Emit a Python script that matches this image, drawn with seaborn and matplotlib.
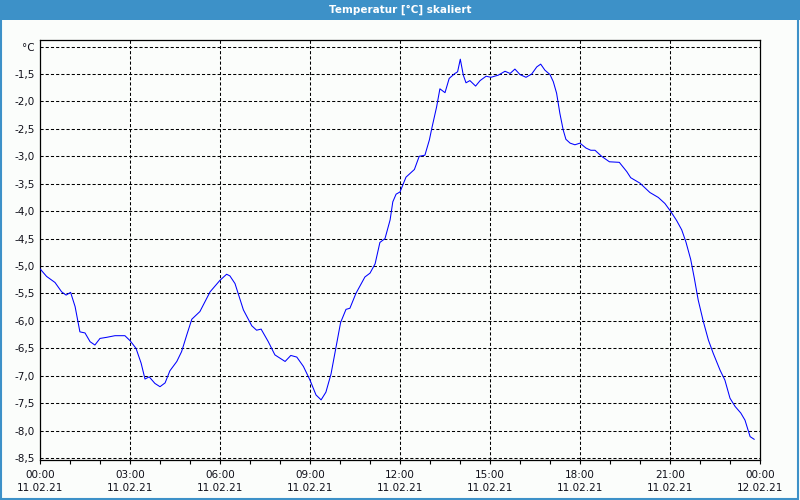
import matplotlib
matplotlib.use("Agg")
import matplotlib.pyplot as plt
from matplotlib.patches import Rectangle
import seaborn as sns
import pandas as pd

# ---- data ----
hours = [0.0, 0.22, 0.5, 0.72, 0.87, 1.02, 1.17, 1.33, 1.5, 1.67, 1.83, 2.0, 2.22, 2.5, 2.83,
         3.0, 3.2, 3.37, 3.5, 3.64, 3.83, 4.0, 4.17, 4.33, 4.56, 4.72, 4.89, 5.06, 5.33, 5.67,
         6.0, 6.22, 6.33, 6.5, 6.78, 7.06, 7.22, 7.37, 7.61, 7.83, 8.17, 8.36, 8.56, 8.78,
         9.0, 9.2, 9.37, 9.53, 9.7, 9.87, 10.02, 10.2, 10.33, 10.53, 10.83, 11.0, 11.17, 11.33,
         11.5, 11.67, 11.76, 11.87, 12.0, 12.2, 12.48, 12.64, 12.83, 12.98, 13.06, 13.22, 13.33,
         13.5, 13.64, 13.83, 13.92, 14.01, 14.11, 14.2, 14.33, 14.52, 14.67, 14.87, 15.03, 15.28,
         15.5, 15.67, 15.83, 16.0, 16.2, 16.39, 16.56, 16.69, 16.83, 17.0, 17.11, 17.22, 17.33,
         17.44, 17.53, 17.67, 17.83, 18.0, 18.2, 18.36, 18.5, 18.72, 18.98, 19.31, 19.56, 19.69,
         20.0, 20.33, 20.61, 20.83, 21.03, 21.22, 21.39, 21.53, 21.69, 21.81, 21.94, 22.11, 22.28,
         22.44, 22.67, 22.83, 23.0, 23.17, 23.36, 23.5, 23.58, 23.67, 23.81]
temps = [-5.05, -5.19, -5.30, -5.47, -5.53, -5.48, -5.74, -6.20, -6.22, -6.38, -6.44, -6.32, -6.30, -6.27, -6.27,
         -6.36, -6.50, -6.77, -7.06, -7.02, -7.14, -7.20, -7.13, -6.91, -6.74, -6.56, -6.26, -5.97, -5.83, -5.47,
         -5.26, -5.15, -5.18, -5.32, -5.80, -6.09, -6.17, -6.15, -6.38, -6.62, -6.74, -6.63, -6.66, -6.83,
         -7.08, -7.35, -7.44, -7.30, -6.97, -6.47, -6.03, -5.79, -5.77, -5.50, -5.20, -5.13, -4.96, -4.57,
         -4.50, -4.16, -3.83, -3.69, -3.65, -3.38, -3.24, -3.00, -2.98, -2.70, -2.49, -2.10, -1.77,
         -1.84, -1.58, -1.49, -1.46, -1.23, -1.52, -1.66, -1.62, -1.72, -1.62, -1.54, -1.56, -1.52,
         -1.45, -1.49, -1.41, -1.51, -1.56, -1.50, -1.37, -1.32, -1.43, -1.51, -1.64, -1.85, -2.22,
         -2.52, -2.69, -2.76, -2.79, -2.76, -2.85, -2.89, -2.89, -3.00, -3.10, -3.11, -3.28, -3.39,
         -3.49, -3.66, -3.75, -3.86, -4.01, -4.17, -4.34, -4.56, -4.88, -5.22, -5.62, -6.01, -6.35,
         -6.59, -6.90, -7.08, -7.41, -7.56, -7.68, -7.81, -7.95, -8.11, -8.16]

x_tick_pos = [0, 3, 6, 9, 12, 15, 18, 21, 24]
x_tick_labels = ["00:00\n11.02.21", "03:00\n11.02.21", "06:00\n11.02.21", "09:00\n11.02.21",
                 "12:00\n11.02.21", "15:00\n11.02.21", "18:00\n11.02.21", "21:00\n11.02.21",
                 "00:00\n12.02.21"]
y_tick_pos = [-1.0, -1.5, -2.0, -2.5, -3.0, -3.5, -4.0, -4.5, -5.0, -5.5, -6.0, -6.5, -7.0, -7.5, -8.0, -8.5]
y_tick_labels = ["°C", "-1,5", "-2,0", "-2,5", "-3,0", "-3,5", "-4,0", "-4,5", "-5,0", "-5,5",
                 "-6,0", "-6,5", "-7,0", "-7,5", "-8,0", "-8,5"]
title = "Temperatur [°C] skaliert"

# ---- style ----
sns.set_theme(style="white")
plt.rcParams['font.family'] = ['DejaVu Sans']
bg = '#fbfdfb'
header = '#3d91c8'

fig = plt.figure(figsize=(8, 5), dpi=100, facecolor=bg)
ax = fig.add_axes([0.05, 0.08, 0.9, 0.84])
ax.set_facecolor(bg)

df = pd.DataFrame({"h": hours, "t": temps})
sns.lineplot(data=df, x="h", y="t", ax=ax, color='#0000ff', linewidth=0.75,
             estimator=None, antialiased=True, zorder=3)

ax.set_xlim(0, 24)
ax.set_ylim(-8.536, -0.88)
ax.set_xlabel("")
ax.set_ylabel("")

ax.set_xticks(x_tick_pos)
ax.set_xticklabels(x_tick_labels, fontsize=7.5, color='#10101a', linespacing=1.45)
ax.set_xticks(range(0, 25), minor=True)
ax.set_yticks(y_tick_pos)
ax.set_yticklabels(y_tick_labels, fontsize=7.5, color='#10101a')

ax.tick_params(axis='x', which='both', direction='out', length=3, width=0.8, color='black', pad=4,
               bottom=True)
ax.tick_params(axis='y', length=0, pad=4)

for v in y_tick_pos:
    ax.axhline(v, color='black', linewidth=0.75, linestyle=(0, (3, 2)), zorder=1)
for h in x_tick_pos[1:-1]:
    ax.axvline(h, color='black', linewidth=0.75, linestyle=(0, (3, 2)), zorder=1)

for s in ax.spines.values():
    s.set_visible(True)
    s.set_color('black')
    s.set_linewidth(0.9)

# header bar and frame
fig.patches.append(Rectangle((0, 1 - 20 / 500), 1, 20 / 500, transform=fig.transFigure,
                             facecolor=header, edgecolor='none', zorder=0))
fig.patches.append(Rectangle((0.001, 0.003), 0.997, 0.995, transform=fig.transFigure,
                             facecolor='none', edgecolor=header, linewidth=1.5, zorder=0))
fig.text(0.5, 1 - 9.5 / 500, title, color='white', fontsize=7.5, fontweight='bold',
         ha='center', va='center')

fig.savefig("out.png", dpi=100, facecolor=bg)
